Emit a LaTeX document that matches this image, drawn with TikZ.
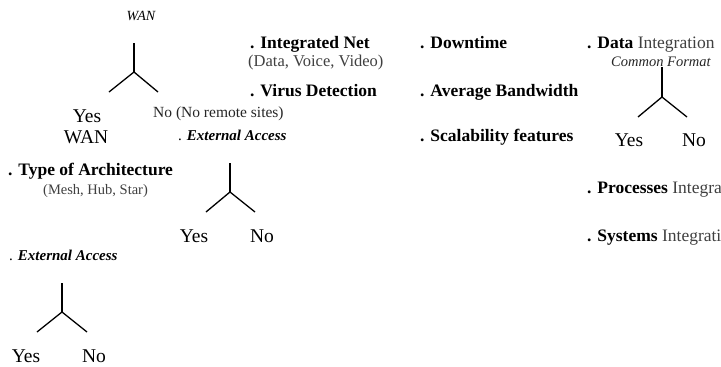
\documentclass[tikz,border=0pt]{standalone}
\usepackage{fontspec}
\setmainfont{Liberation Serif}
\begin{document}
\begin{tikzpicture}[x=1pt,y=-1pt,
  txt/.style={inner sep=0pt, anchor=base west},
  ctr/.style={inner sep=0pt, anchor=base},
  head/.style={txt, font=\fontsize{17.5}{20}\selectfont\bfseries},
  sub/.style={txt, font=\fontsize{16.5}{19}\selectfont, text=black!75},
  small/.style={txt, font=\fontsize{14.5}{17}\selectfont, text=black!75},
  ital/.style={txt, font=\fontsize{15}{18}\selectfont},
  yn/.style={ctr, font=\fontsize{19.5}{22}\selectfont},
  branch/.style={line width=1.3pt, line cap=butt}]
\useasboundingbox (0,0) rectangle (721,367);
\clip (0,0) rectangle (721,367);
\fill[white] (0,0) rectangle (721,367);

% top-left tree
\node[ctr, font=\fontsize{14}{16}\selectfont\itshape] (wantop) at (141,20) {WAN};
\coordinate (t1top) at (134,43);
\coordinate (t1j) at (134,72);
\coordinate (t1l) at (109,92);
\coordinate (t1r) at (158,92);
\draw[branch] (t1top) -- (t1j);
\draw[branch] (t1l) -- (t1j) -- (t1r);
\node[yn] (yes1) at (87,122) {Yes};
\node[yn] (wan1) at (86,143) {WAN};
\node[txt, font=\fontsize{15.5}{18}\selectfont, text=black!85] (no1) at (153,117) {No (No remote sites)};

% middle column
\node[head] (integ) at (250,48) {. Integrated Net};
\node[sub] (dvv) at (248,66) {(Data, Voice, Video)};
\node[head] (virus) at (250,96) {. Virus Detection};
\node[ital] (ext1) at (178,140) {. \textbf{\textit{External Access}}};

% third column
\node[head] (down) at (420,48) {. Downtime};
\node[head] (avg) at (420,96) {. Average Bandwidth};
\node[head] (scal) at (420,141) {. Scalability features};

% right column
\node[head] (data) at (587,48) {. Data \textmd{\color{black!75}Integration}};
\node[txt, font=\fontsize{14.5}{17}\selectfont\itshape, text=black!85] (cf) at (611,66) {Common Format};
\coordinate (t2top) at (662,67);
\coordinate (t2j) at (662,97);
\coordinate (t2l) at (638,117);
\coordinate (t2r) at (687,117);
\draw[branch] (t2top) -- (t2j);
\draw[branch] (t2l) -- (t2j) -- (t2r);
\node[yn] (yes2) at (629,146) {Yes};
\node[yn] (no2) at (694,146) {No};
\node[head] (proc) at (587,193) {. Processes \textmd{\color{black!75}Integration}};
\node[head] (sys) at (587,241) {. Systems \textmd{\color{black!75}Integration}};

% architecture
\node[head] (arch) at (8,175) {. Type of Architecture};
\node[small] (mesh) at (43,194) {(Mesh, Hub, Star)};
\coordinate (t3top) at (230,163);
\coordinate (t3j) at (230,192);
\coordinate (t3l) at (206,212);
\coordinate (t3r) at (255,212);
\draw[branch] (t3top) -- (t3j);
\draw[branch] (t3l) -- (t3j) -- (t3r);
\node[yn] (yes3) at (194,242) {Yes};
\node[yn] (no3) at (262,242) {No};

% bottom tree
\node[ital] (ext2) at (9,260) {. \textbf{\textit{External Access}}};
\coordinate (t4top) at (62,283);
\coordinate (t4j) at (62,312);
\coordinate (t4l) at (37,332);
\coordinate (t4r) at (87,332);
\draw[branch] (t4top) -- (t4j);
\draw[branch] (t4l) -- (t4j) -- (t4r);
\node[yn] (yes4) at (26,362) {Yes};
\node[yn] (no4) at (94,362) {No};
\end{tikzpicture}
\end{document}
